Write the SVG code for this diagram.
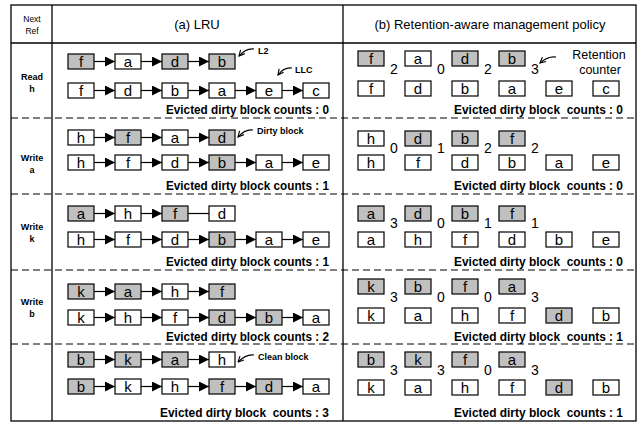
<svg xmlns="http://www.w3.org/2000/svg" width="641" height="424" viewBox="0 0 641 424">
<style>
.bx{stroke:#000;stroke-width:1.2;fill:#fff}
.gy{fill:#c0c0c0}
.lt{font-family:"Liberation Sans",Arial,sans-serif;font-size:15px;text-anchor:middle;fill:#000}
.ct{font-family:"Liberation Sans",Arial,sans-serif;font-size:14px;fill:#000}
.ev{font-family:"Liberation Sans",Arial,sans-serif;font-size:12.5px;font-weight:bold;text-anchor:end;fill:#000}
.lb{font-family:"Liberation Sans",Arial,sans-serif;font-size:9px;font-weight:bold;fill:#000}
.rl{font-family:"Liberation Sans",Arial,sans-serif;font-size:9px;font-weight:bold;text-anchor:middle;fill:#000}
.hd{font-family:"Liberation Sans",Arial,sans-serif;font-size:13px;text-anchor:middle;fill:#000}
.hs{font-family:"Liberation Sans",Arial,sans-serif;font-size:8.5px;text-anchor:middle;fill:#000}
.rc{font-family:"Liberation Sans",Arial,sans-serif;font-size:12.5px;text-anchor:middle;fill:#000}
.frame{stroke:#000;stroke-width:1.3;fill:none}
.dash{stroke:#000;stroke-width:1;stroke-dasharray:7,4;fill:none}
.cn line{stroke:#000;stroke-width:1.2}
.cv{stroke:#000;stroke-width:1.1;fill:none}
</style>
<defs>
<marker id="ah" viewBox="0 0 10 10" refX="10" refY="5" markerWidth="10" markerHeight="10" markerUnits="userSpaceOnUse" orient="auto"><path d="M0,0 L10,5 L0,10 z" fill="#000"/></marker>
<marker id="oa" viewBox="0 0 10 10" refX="9" refY="5" markerWidth="7" markerHeight="7" markerUnits="userSpaceOnUse" orient="auto"><path d="M1,1 L9,5 L1,9" fill="none" stroke="#000" stroke-width="1.6"/></marker>
</defs>
<rect width="641" height="424" fill="#fff"/>
<g id="table">
<rect class="frame" x="11" y="5" width="625" height="416"/>
<line class="frame" x1="52" y1="5" x2="52" y2="421"/>
<line class="frame" x1="343" y1="5" x2="343" y2="421"/>
<line class="frame" x1="11" y1="43" x2="636" y2="43"/>
<line class="dash" x1="11" y1="118" x2="636" y2="118"/>
<line class="dash" x1="11" y1="194" x2="636" y2="194"/>
<line class="dash" x1="11" y1="270" x2="636" y2="270"/>
<line class="dash" x1="11" y1="344" x2="636" y2="344"/>
</g>
<g id="headers">
<text class="hs" x="32" y="22">Next</text>
<text class="hs" x="32" y="34">Ref</text>
<text class="hd" x="197" y="29">(a) LRU</text>
<text class="hd" x="490" y="29" textLength="231" lengthAdjust="spacingAndGlyphs">(b) Retention-aware management policy</text>
</g>
<g id="row-labels">
<text class="rl" x="32" y="80">Read</text><text class="rl" x="32" y="92">h</text>
<text class="rl" x="32" y="161">Write</text><text class="rl" x="32" y="173">a</text>
<text class="rl" x="32" y="230">Write</text><text class="rl" x="32" y="242">k</text>
<text class="rl" x="32" y="305">Write</text><text class="rl" x="32" y="317">b</text>
</g>

<!-- LRU row 1 -->
<g id="lru1-l2-f"><rect class="bx gy" x="68" y="54" width="26" height="15"/><text class="lt" x="81" y="67">f</text></g>
<g id="lru1-l2-a"><rect class="bx" x="115" y="54" width="26" height="15"/><text class="lt" x="128" y="67">a</text></g>
<g id="lru1-l2-d"><rect class="bx gy" x="162" y="54" width="26" height="15"/><text class="lt" x="175" y="67">d</text></g>
<g id="lru1-l2-b"><rect class="bx gy" x="209" y="54" width="26" height="15"/><text class="lt" x="222" y="67">b</text></g>
<g id="lru1-llc-f"><rect class="bx" x="68" y="83" width="26" height="15"/><text class="lt" x="81" y="96">f</text></g>
<g id="lru1-llc-d"><rect class="bx" x="115" y="83" width="26" height="15"/><text class="lt" x="128" y="96">d</text></g>
<g id="lru1-llc-b"><rect class="bx" x="162" y="83" width="26" height="15"/><text class="lt" x="175" y="96">b</text></g>
<g id="lru1-llc-a"><rect class="bx" x="209" y="83" width="26" height="15"/><text class="lt" x="222" y="96">a</text></g>
<g id="lru1-llc-e"><rect class="bx" x="256" y="83" width="26" height="15"/><text class="lt" x="269" y="96">e</text></g>
<g id="lru1-llc-c"><rect class="bx" x="303" y="83" width="26" height="15"/><text class="lt" x="316" y="96">c</text></g>
<g id="lru1-label-l2"><text class="lb" x="258" y="54">L2</text></g>
<g id="lru1-label-llc"><text class="lb" x="295" y="73">LLC</text></g>
<g id="lru1-evicted"><text class="ev" x="329" y="114" textLength="163" lengthAdjust="spacingAndGlyphs">Evicted dirty block counts : 0</text></g>

<!-- LRU row 2 -->
<g id="lru2-l2-h"><rect class="bx" x="68" y="130" width="26" height="15"/><text class="lt" x="81" y="143">h</text></g>
<g id="lru2-l2-f"><rect class="bx gy" x="115" y="130" width="26" height="15"/><text class="lt" x="128" y="143">f</text></g>
<g id="lru2-l2-a"><rect class="bx" x="162" y="130" width="26" height="15"/><text class="lt" x="175" y="143">a</text></g>
<g id="lru2-l2-d"><rect class="bx gy" x="209" y="130" width="26" height="15"/><text class="lt" x="222" y="143">d</text></g>
<g id="lru2-llc-h"><rect class="bx" x="68" y="155" width="26" height="15"/><text class="lt" x="81" y="168">h</text></g>
<g id="lru2-llc-f"><rect class="bx" x="115" y="155" width="26" height="15"/><text class="lt" x="128" y="168">f</text></g>
<g id="lru2-llc-d"><rect class="bx" x="162" y="155" width="26" height="15"/><text class="lt" x="175" y="168">d</text></g>
<g id="lru2-llc-b"><rect class="bx gy" x="209" y="155" width="26" height="15"/><text class="lt" x="222" y="168">b</text></g>
<g id="lru2-llc-a"><rect class="bx" x="256" y="155" width="26" height="15"/><text class="lt" x="269" y="168">a</text></g>
<g id="lru2-llc-e"><rect class="bx" x="303" y="155" width="26" height="15"/><text class="lt" x="316" y="168">e</text></g>
<g id="lru2-label-dirty"><text class="lb" x="257" y="134">Dirty block</text></g>
<g id="lru2-evicted"><text class="ev" x="329" y="190" textLength="163" lengthAdjust="spacingAndGlyphs">Evicted dirty block counts : 1</text></g>

<!-- LRU row 3 -->
<g id="lru3-l2-a"><rect class="bx gy" x="68" y="206" width="26" height="15"/><text class="lt" x="81" y="219">a</text></g>
<g id="lru3-l2-h"><rect class="bx" x="115" y="206" width="26" height="15"/><text class="lt" x="128" y="219">h</text></g>
<g id="lru3-l2-f"><rect class="bx gy" x="162" y="206" width="26" height="15"/><text class="lt" x="175" y="219">f</text></g>
<g id="lru3-l2-d"><rect class="bx" x="209" y="206" width="26" height="15"/><text class="lt" x="222" y="219">d</text></g>
<g id="lru3-llc-h"><rect class="bx" x="68" y="232" width="26" height="15"/><text class="lt" x="81" y="245">h</text></g>
<g id="lru3-llc-f"><rect class="bx" x="115" y="232" width="26" height="15"/><text class="lt" x="128" y="245">f</text></g>
<g id="lru3-llc-d"><rect class="bx" x="162" y="232" width="26" height="15"/><text class="lt" x="175" y="245">d</text></g>
<g id="lru3-llc-b"><rect class="bx gy" x="209" y="232" width="26" height="15"/><text class="lt" x="222" y="245">b</text></g>
<g id="lru3-llc-a"><rect class="bx" x="256" y="232" width="26" height="15"/><text class="lt" x="269" y="245">a</text></g>
<g id="lru3-llc-e"><rect class="bx" x="303" y="232" width="26" height="15"/><text class="lt" x="316" y="245">e</text></g>
<g id="lru3-evicted"><text class="ev" x="329" y="266" textLength="163" lengthAdjust="spacingAndGlyphs">Evicted dirty block counts : 1</text></g>

<!-- LRU row 4 -->
<g id="lru4-l2-k"><rect class="bx gy" x="68" y="284" width="26" height="15"/><text class="lt" x="81" y="297">k</text></g>
<g id="lru4-l2-a"><rect class="bx gy" x="115" y="284" width="26" height="15"/><text class="lt" x="128" y="297">a</text></g>
<g id="lru4-l2-h"><rect class="bx" x="162" y="284" width="26" height="15"/><text class="lt" x="175" y="297">h</text></g>
<g id="lru4-l2-f"><rect class="bx gy" x="209" y="284" width="26" height="15"/><text class="lt" x="222" y="297">f</text></g>
<g id="lru4-llc-k"><rect class="bx" x="68" y="310" width="26" height="15"/><text class="lt" x="81" y="323">k</text></g>
<g id="lru4-llc-h"><rect class="bx" x="115" y="310" width="26" height="15"/><text class="lt" x="128" y="323">h</text></g>
<g id="lru4-llc-f"><rect class="bx" x="162" y="310" width="26" height="15"/><text class="lt" x="175" y="323">f</text></g>
<g id="lru4-llc-d"><rect class="bx gy" x="209" y="310" width="26" height="15"/><text class="lt" x="222" y="323">d</text></g>
<g id="lru4-llc-b"><rect class="bx gy" x="256" y="310" width="26" height="15"/><text class="lt" x="269" y="323">b</text></g>
<g id="lru4-llc-a"><rect class="bx" x="303" y="310" width="26" height="15"/><text class="lt" x="316" y="323">a</text></g>
<g id="lru4-evicted"><text class="ev" x="329" y="341" textLength="163" lengthAdjust="spacingAndGlyphs">Evicted dirty block counts : 2</text></g>

<!-- LRU row 5 -->
<g id="lru5-l2-b"><rect class="bx gy" x="68" y="352" width="26" height="15"/><text class="lt" x="81" y="365">b</text></g>
<g id="lru5-l2-k"><rect class="bx gy" x="115" y="352" width="26" height="15"/><text class="lt" x="128" y="365">k</text></g>
<g id="lru5-l2-a"><rect class="bx gy" x="162" y="352" width="26" height="15"/><text class="lt" x="175" y="365">a</text></g>
<g id="lru5-l2-h"><rect class="bx" x="209" y="352" width="26" height="15"/><text class="lt" x="222" y="365">h</text></g>
<g id="lru5-llc-b"><rect class="bx gy" x="68" y="379" width="26" height="15"/><text class="lt" x="81" y="392">b</text></g>
<g id="lru5-llc-k"><rect class="bx" x="115" y="379" width="26" height="15"/><text class="lt" x="128" y="392">k</text></g>
<g id="lru5-llc-h"><rect class="bx" x="162" y="379" width="26" height="15"/><text class="lt" x="175" y="392">h</text></g>
<g id="lru5-llc-f"><rect class="bx gy" x="209" y="379" width="26" height="15"/><text class="lt" x="222" y="392">f</text></g>
<g id="lru5-llc-d"><rect class="bx gy" x="256" y="379" width="26" height="15"/><text class="lt" x="269" y="392">d</text></g>
<g id="lru5-llc-a"><rect class="bx" x="303" y="379" width="26" height="15"/><text class="lt" x="316" y="392">a</text></g>
<g id="lru5-label-clean"><text class="lb" x="258" y="360">Clean block</text></g>
<g id="lru5-evicted"><text class="ev" x="329" y="417" textLength="169" lengthAdjust="spacingAndGlyphs" xml:space="preserve">Evicted dirty block  counts : 3</text></g>

<!-- Retention-aware row 1 -->
<g id="ram1-top-f"><rect class="bx gy" x="358" y="51" width="26" height="15"/><text class="lt" x="371" y="64">f</text><text class="ct" x="390" y="74">2</text></g>
<g id="ram1-top-a"><rect class="bx" x="405" y="51" width="26" height="15"/><text class="lt" x="418" y="64">a</text><text class="ct" x="437" y="74">0</text></g>
<g id="ram1-top-d"><rect class="bx gy" x="452" y="51" width="26" height="15"/><text class="lt" x="465" y="64">d</text><text class="ct" x="484" y="74">2</text></g>
<g id="ram1-top-b"><rect class="bx gy" x="499" y="51" width="26" height="15"/><text class="lt" x="512" y="64">b</text><text class="ct" x="531" y="74">3</text></g>
<g id="ram1-bot-f"><rect class="bx" x="358" y="81" width="26" height="15"/><text class="lt" x="371" y="94">f</text></g>
<g id="ram1-bot-d"><rect class="bx" x="405" y="81" width="26" height="15"/><text class="lt" x="418" y="94">d</text></g>
<g id="ram1-bot-b"><rect class="bx" x="452" y="81" width="26" height="15"/><text class="lt" x="465" y="94">b</text></g>
<g id="ram1-bot-a"><rect class="bx" x="499" y="81" width="26" height="15"/><text class="lt" x="512" y="94">a</text></g>
<g id="ram1-bot-e"><rect class="bx" x="546" y="81" width="26" height="15"/><text class="lt" x="559" y="94">e</text></g>
<g id="ram1-bot-c"><rect class="bx" x="593" y="81" width="26" height="15"/><text class="lt" x="606" y="94">c</text></g>
<g id="ram1-label-retention"><text class="rc" x="599" y="59">Retention</text><text class="rc" x="600" y="74">counter</text></g>
<g id="ram1-evicted"><text class="ev" x="623" y="114" textLength="169" lengthAdjust="spacingAndGlyphs" xml:space="preserve">Evicted dirty block  counts : 0</text></g>

<!-- Retention-aware row 2 -->
<g id="ram2-top-h"><rect class="bx" x="358" y="131" width="26" height="15"/><text class="lt" x="371" y="144">h</text><text class="ct" x="390" y="153">0</text></g>
<g id="ram2-top-d"><rect class="bx gy" x="405" y="131" width="26" height="15"/><text class="lt" x="418" y="144">d</text><text class="ct" x="437" y="153">1</text></g>
<g id="ram2-top-b"><rect class="bx gy" x="452" y="131" width="26" height="15"/><text class="lt" x="465" y="144">b</text><text class="ct" x="484" y="153">2</text></g>
<g id="ram2-top-f"><rect class="bx gy" x="499" y="131" width="26" height="15"/><text class="lt" x="512" y="144">f</text><text class="ct" x="531" y="153">2</text></g>
<g id="ram2-bot-h"><rect class="bx" x="358" y="155" width="26" height="15"/><text class="lt" x="371" y="168">h</text></g>
<g id="ram2-bot-f"><rect class="bx" x="405" y="155" width="26" height="15"/><text class="lt" x="418" y="168">f</text></g>
<g id="ram2-bot-d"><rect class="bx" x="452" y="155" width="26" height="15"/><text class="lt" x="465" y="168">d</text></g>
<g id="ram2-bot-b"><rect class="bx" x="499" y="155" width="26" height="15"/><text class="lt" x="512" y="168">b</text></g>
<g id="ram2-bot-a"><rect class="bx" x="546" y="155" width="26" height="15"/><text class="lt" x="559" y="168">a</text></g>
<g id="ram2-bot-e"><rect class="bx" x="593" y="155" width="26" height="15"/><text class="lt" x="606" y="168">e</text></g>
<g id="ram2-evicted"><text class="ev" x="623" y="190" textLength="169" lengthAdjust="spacingAndGlyphs" xml:space="preserve">Evicted dirty block  counts : 0</text></g>

<!-- Retention-aware row 3 -->
<g id="ram3-top-a"><rect class="bx gy" x="358" y="206" width="26" height="15"/><text class="lt" x="371" y="219">a</text><text class="ct" x="390" y="228">3</text></g>
<g id="ram3-top-d"><rect class="bx gy" x="405" y="206" width="26" height="15"/><text class="lt" x="418" y="219">d</text><text class="ct" x="437" y="228">0</text></g>
<g id="ram3-top-b"><rect class="bx gy" x="452" y="206" width="26" height="15"/><text class="lt" x="465" y="219">b</text><text class="ct" x="484" y="228">1</text></g>
<g id="ram3-top-f"><rect class="bx gy" x="499" y="206" width="26" height="15"/><text class="lt" x="512" y="219">f</text><text class="ct" x="531" y="228">1</text></g>
<g id="ram3-bot-a"><rect class="bx" x="358" y="232" width="26" height="15"/><text class="lt" x="371" y="245">a</text></g>
<g id="ram3-bot-h"><rect class="bx" x="405" y="232" width="26" height="15"/><text class="lt" x="418" y="245">h</text></g>
<g id="ram3-bot-f"><rect class="bx" x="452" y="232" width="26" height="15"/><text class="lt" x="465" y="245">f</text></g>
<g id="ram3-bot-d"><rect class="bx" x="499" y="232" width="26" height="15"/><text class="lt" x="512" y="245">d</text></g>
<g id="ram3-bot-b"><rect class="bx" x="546" y="232" width="26" height="15"/><text class="lt" x="559" y="245">b</text></g>
<g id="ram3-bot-e"><rect class="bx" x="593" y="232" width="26" height="15"/><text class="lt" x="606" y="245">e</text></g>
<g id="ram3-evicted"><text class="ev" x="623" y="266" textLength="169" lengthAdjust="spacingAndGlyphs" xml:space="preserve">Evicted dirty block  counts : 0</text></g>

<!-- Retention-aware row 4 -->
<g id="ram4-top-k"><rect class="bx gy" x="358" y="279" width="26" height="15"/><text class="lt" x="371" y="292">k</text><text class="ct" x="390" y="302">3</text></g>
<g id="ram4-top-b"><rect class="bx gy" x="405" y="279" width="26" height="15"/><text class="lt" x="418" y="292">b</text><text class="ct" x="437" y="302">0</text></g>
<g id="ram4-top-f"><rect class="bx gy" x="452" y="279" width="26" height="15"/><text class="lt" x="465" y="292">f</text><text class="ct" x="484" y="302">0</text></g>
<g id="ram4-top-a"><rect class="bx gy" x="499" y="279" width="26" height="15"/><text class="lt" x="512" y="292">a</text><text class="ct" x="531" y="302">3</text></g>
<g id="ram4-bot-k"><rect class="bx" x="358" y="308" width="26" height="15"/><text class="lt" x="371" y="321">k</text></g>
<g id="ram4-bot-a"><rect class="bx" x="405" y="308" width="26" height="15"/><text class="lt" x="418" y="321">a</text></g>
<g id="ram4-bot-h"><rect class="bx" x="452" y="308" width="26" height="15"/><text class="lt" x="465" y="321">h</text></g>
<g id="ram4-bot-f"><rect class="bx" x="499" y="308" width="26" height="15"/><text class="lt" x="512" y="321">f</text></g>
<g id="ram4-bot-d"><rect class="bx gy" x="546" y="308" width="26" height="15"/><text class="lt" x="559" y="321">d</text></g>
<g id="ram4-bot-b"><rect class="bx" x="593" y="308" width="26" height="15"/><text class="lt" x="606" y="321">b</text></g>
<g id="ram4-evicted"><text class="ev" x="623" y="341" textLength="169" lengthAdjust="spacingAndGlyphs" xml:space="preserve">Evicted dirty block  counts : 1</text></g>

<!-- Retention-aware row 5 -->
<g id="ram5-top-b"><rect class="bx gy" x="358" y="352" width="26" height="15"/><text class="lt" x="371" y="365">b</text><text class="ct" x="390" y="375">3</text></g>
<g id="ram5-top-k"><rect class="bx gy" x="405" y="352" width="26" height="15"/><text class="lt" x="418" y="365">k</text><text class="ct" x="437" y="375">3</text></g>
<g id="ram5-top-f"><rect class="bx gy" x="452" y="352" width="26" height="15"/><text class="lt" x="465" y="365">f</text><text class="ct" x="484" y="375">0</text></g>
<g id="ram5-top-a"><rect class="bx gy" x="499" y="352" width="26" height="15"/><text class="lt" x="512" y="365">a</text><text class="ct" x="531" y="375">3</text></g>
<g id="ram5-bot-k"><rect class="bx" x="358" y="380" width="26" height="15"/><text class="lt" x="371" y="393">k</text></g>
<g id="ram5-bot-a"><rect class="bx" x="405" y="380" width="26" height="15"/><text class="lt" x="418" y="393">a</text></g>
<g id="ram5-bot-h"><rect class="bx" x="452" y="380" width="26" height="15"/><text class="lt" x="465" y="393">h</text></g>
<g id="ram5-bot-f"><rect class="bx" x="499" y="380" width="26" height="15"/><text class="lt" x="512" y="393">f</text></g>
<g id="ram5-bot-d"><rect class="bx gy" x="546" y="380" width="26" height="15"/><text class="lt" x="559" y="393">d</text></g>
<g id="ram5-bot-b"><rect class="bx" x="593" y="380" width="26" height="15"/><text class="lt" x="606" y="393">b</text></g>
<g id="ram5-evicted"><text class="ev" x="623" y="417" textLength="169" lengthAdjust="spacingAndGlyphs" xml:space="preserve">Evicted dirty block  counts : 1</text></g>

<g id="connectors" class="cn">
<line x1="94" y1="61.5" x2="115" y2="61.5" marker-end="url(#ah)"/>
<line x1="141" y1="61.5" x2="162" y2="61.5" marker-end="url(#ah)"/>
<line x1="188" y1="61.5" x2="209" y2="61.5" marker-end="url(#ah)"/>
<line x1="94" y1="90.5" x2="115" y2="90.5" marker-end="url(#ah)"/>
<line x1="141" y1="90.5" x2="162" y2="90.5" marker-end="url(#ah)"/>
<line x1="188" y1="90.5" x2="209" y2="90.5" marker-end="url(#ah)"/>
<line x1="235" y1="90.5" x2="256" y2="90.5" marker-end="url(#ah)"/>
<line x1="282" y1="90.5" x2="303" y2="90.5" marker-end="url(#ah)"/>

<line x1="94" y1="137.5" x2="115" y2="137.5" marker-end="url(#ah)"/>
<line x1="141" y1="137.5" x2="162" y2="137.5" marker-end="url(#ah)"/>
<line x1="188" y1="137.5" x2="209" y2="137.5" marker-end="url(#ah)"/>
<line x1="94" y1="162.5" x2="115" y2="162.5" marker-end="url(#ah)"/>
<line x1="141" y1="162.5" x2="162" y2="162.5" marker-end="url(#ah)"/>
<line x1="188" y1="162.5" x2="209" y2="162.5" marker-end="url(#ah)"/>
<line x1="235" y1="162.5" x2="256" y2="162.5" marker-end="url(#ah)"/>
<line x1="282" y1="162.5" x2="303" y2="162.5" marker-end="url(#ah)"/>

<line x1="94" y1="213.5" x2="115" y2="213.5" marker-end="url(#ah)"/>
<line x1="141" y1="213.5" x2="162" y2="213.5" marker-end="url(#ah)"/>
<line x1="188" y1="213.5" x2="209" y2="213.5"/>
<line x1="94" y1="239.5" x2="115" y2="239.5" marker-end="url(#ah)"/>
<line x1="141" y1="239.5" x2="162" y2="239.5" marker-end="url(#ah)"/>
<line x1="188" y1="239.5" x2="209" y2="239.5" marker-end="url(#ah)"/>
<line x1="235" y1="239.5" x2="256" y2="239.5" marker-end="url(#ah)"/>
<line x1="282" y1="239.5" x2="303" y2="239.5" marker-end="url(#ah)"/>

<line x1="94" y1="291.5" x2="115" y2="291.5" marker-end="url(#ah)"/>
<line x1="141" y1="291.5" x2="162" y2="291.5" marker-end="url(#ah)"/>
<line x1="188" y1="291.5" x2="209" y2="291.5" marker-end="url(#ah)"/>
<line x1="94" y1="317.5" x2="115" y2="317.5" marker-end="url(#ah)"/>
<line x1="141" y1="317.5" x2="162" y2="317.5" marker-end="url(#ah)"/>
<line x1="188" y1="317.5" x2="209" y2="317.5" marker-end="url(#ah)"/>
<line x1="235" y1="317.5" x2="256" y2="317.5" marker-end="url(#ah)"/>
<line x1="282" y1="317.5" x2="303" y2="317.5" marker-end="url(#ah)"/>

<line x1="94" y1="359.5" x2="115" y2="359.5" marker-end="url(#ah)"/>
<line x1="141" y1="359.5" x2="162" y2="359.5" marker-end="url(#ah)"/>
<line x1="188" y1="359.5" x2="209" y2="359.5" marker-end="url(#ah)"/>
<line x1="94" y1="386.5" x2="115" y2="386.5" marker-end="url(#ah)"/>
<line x1="141" y1="386.5" x2="162" y2="386.5" marker-end="url(#ah)"/>
<line x1="188" y1="386.5" x2="209" y2="386.5" marker-end="url(#ah)"/>
<line x1="235" y1="386.5" x2="256" y2="386.5" marker-end="url(#ah)"/>
<line x1="282" y1="386.5" x2="303" y2="386.5" marker-end="url(#ah)"/>

<path class="cv" d="M254,49 Q246,48 239,56" marker-end="url(#oa)"/>
<path class="cv" d="M292,68 Q284,67 278,75" marker-end="url(#oa)"/>
<path class="cv" d="M253,130 Q245,129 238,137" marker-end="url(#oa)"/>
<path class="cv" d="M254,355 Q246,354 238,362" marker-end="url(#oa)"/>
<path class="cv" d="M556,57 Q548,56 540,63" marker-end="url(#oa)"/>
</g>
</svg>
